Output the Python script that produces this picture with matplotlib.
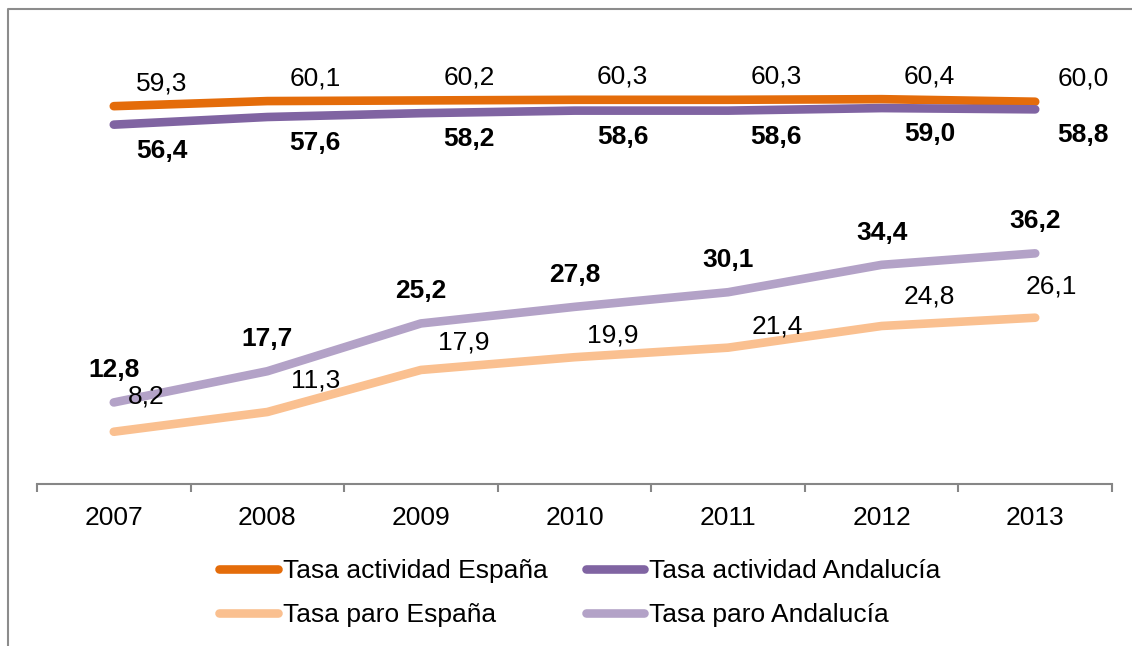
import matplotlib
matplotlib.use("Agg")
from matplotlib import pyplot as plt
from matplotlib.lines import Line2D

plt.rcParams['font.family'] = ['Liberation Sans', 'DejaVu Sans']

years = ['2007', '2008', '2009', '2010', '2011', '2012', '2013']
act_esp = [59.3, 60.1, 60.2, 60.3, 60.3, 60.4, 60.0]
act_and = [56.4, 57.6, 58.2, 58.6, 58.6, 59.0, 58.8]
paro_esp = [8.2, 11.3, 17.9, 19.9, 21.4, 24.8, 26.1]
paro_and = [12.8, 17.7, 25.2, 27.8, 30.1, 34.4, 36.2]

names = ['Tasa actividad España', 'Tasa actividad Andalucía',
         'Tasa paro España', 'Tasa paro Andalucía']
colors = ['#E46C0A', '#8064A2', '#FAC090', '#B3A2C7']

# label offsets in pixels (dx, dy up)
off_act_esp = [(48, 23)] * 7
off_act_and = [(48, -26)] * 7
off_paro_esp = [(32, 35), (48, 32), (43, 27), (38, 22), (49, 21), (48, 29), (16, 31)]
off_paro_and = [(0, 32)] * 7

FS = 19
W, H = 1132, 646
fig = plt.figure(figsize=(W / 100, H / 100), dpi=100)
ax = fig.add_axes([37 / W, 1 - 484 / H, (1112 - 37) / W, 446 / H])

xs = list(range(len(years)))
series = [(act_esp, off_act_esp, 'normal'),
          (act_and, off_act_and, 'bold'),
          (paro_esp, off_paro_esp, 'normal'),
          (paro_and, off_paro_and, 'bold')]

for (vals, offs, wt), name, col in zip(series, names, colors):
    ax.plot(xs, vals, color=col, lw=6.2, solid_capstyle='round',
            solid_joinstyle='round', label=name)
    for x, v, (dx, dy) in zip(xs, vals, offs):
        ax.annotate(f"{v:.1f}".replace('.', ','), (x, v),
                    xytext=(dx * 0.72, dy * 0.72), textcoords='offset points',
                    ha='center', va='center', fontsize=FS, fontweight=wt)

ax.set_xlim(-0.5, len(years) - 0.5)
ax.set_ylim(0, 70)
ax.set_yticks([])
for s in ['top', 'right', 'left']:
    ax.spines[s].set_visible(False)
ax.spines['bottom'].set_color('#868686')
ax.spines['bottom'].set_linewidth(1.5)

ax.set_xticks([i - 0.5 for i in range(len(years) + 1)])
ax.set_xticklabels([])
ax.tick_params(axis='x', which='major', length=6, width=1.5, color='#868686')
ax.set_xticks(xs, minor=True)
ax.set_xticklabels(years, minor=True, fontsize=FS)
ax.tick_params(axis='x', which='minor', length=0, pad=16)

handles, labels = ax.get_legend_handles_labels()
order = [0, 2, 1, 3]  # fill legend row by row
fig.legend([handles[i] for i in order], [labels[i] for i in order],
           ncol=2, loc='center',
           bbox_to_anchor=(580 / W, 1 - 593 / H), frameon=False,
           fontsize=FS, handlelength=2.2, handletextpad=0.2,
           columnspacing=1.45, labelspacing=0.75, borderaxespad=0)

# partial frame (left and top edges)
fig.add_artist(Line2D([7.5 / W, 7.5 / W, 1], [0, 1 - 8.5 / H, 1 - 8.5 / H],
                      transform=fig.transFigure, color='#8C8C8C', lw=1.5))

fig.savefig('out.png', dpi=100, facecolor='white')
